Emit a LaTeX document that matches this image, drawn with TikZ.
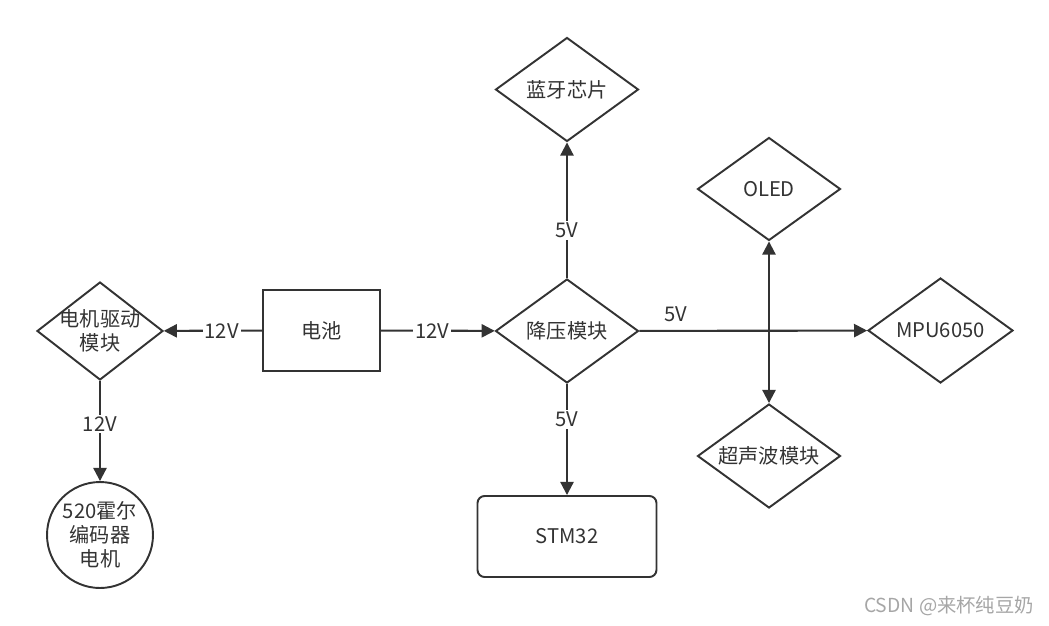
\documentclass[tikz,border=0pt]{standalone}
\usepackage{fontspec}
\setmainfont{Noto Sans CJK SC}
\usetikzlibrary{shapes.geometric,arrows.meta}
\definecolor{ink}{HTML}{333333}

\begin{document}
\begin{tikzpicture}[x=0.02cm, y=-0.02cm, font=\fontsize{11.5}{13.5}\selectfont, text=ink,
        mod/.style={diamond, draw=ink, line width=1.1pt, inner sep=0pt, align=center, minimum width=2.86cm, minimum height=2.08cm},
        box/.style={draw=ink, line width=1.1pt, align=center},
        arr/.style={-{Triangle[length=7.5pt,width=7.5pt]}, draw=ink, line width=1.2pt},
        volt/.style={fill=white, inner sep=1pt}]
        \useasboundingbox (0,0) rectangle (1049,626);

        \node[mod, inner sep=-8pt, minimum width=2.52cm, minimum height=1.96cm] (drv) at (100,331) {电机驱动\\模块};
        \node[box, circle, minimum size=2.12cm, inner sep=0pt] (motor) at (100,535) {520霍尔\\编码器\\电机};
        \node[box, minimum width=2.34cm, minimum height=1.62cm] (bat) at (321.5,330.5) {电池};
        \node[mod] (buck) at (567,331) {降压模块};
        \node[mod] (bt) at (567,89.5) {蓝牙芯片};
        \node[box, rounded corners=4pt, minimum width=3.58cm, minimum height=1.62cm] (mcu) at (567,536.5) {STM32};
        \node[mod, minimum height=2.06cm] (oled) at (769,189) {OLED};
        \node[mod, minimum width=2.9cm, minimum height=2.1cm] (mpu) at (940.5,330.5) {MPU6050};
        \node[mod, inner sep=-6pt] (sonic) at (769,456) {超声波模块};
        \node[text=gray!70, font=\fontsize{11}{12}\selectfont] (mark) at (949,606) {CSDN @来杯纯豆奶};

        \draw[arr] (bat) -- node[volt, pos=0.41]{12V} (drv);
        \draw[arr] (bat) -- node[volt, pos=0.45]{12V} (buck);
        \draw[arr] (drv) -- node[volt, pos=0.43]{12V} (motor);
        \draw[arr] (buck) -- node[volt, pos=0.35]{5V} (bt);
        \draw[arr] (buck) -- node[volt, pos=0.32]{5V} (mcu);
        \draw[arr] (buck) -- node[above, pos=0.16, yshift=1pt]{5V} (mpu);
        \draw[arr, {Triangle[length=7.5pt,width=7.5pt]}-{Triangle[length=7.5pt,width=7.5pt]}] (oled) -- (sonic);
    \end{tikzpicture}
\end{document}
